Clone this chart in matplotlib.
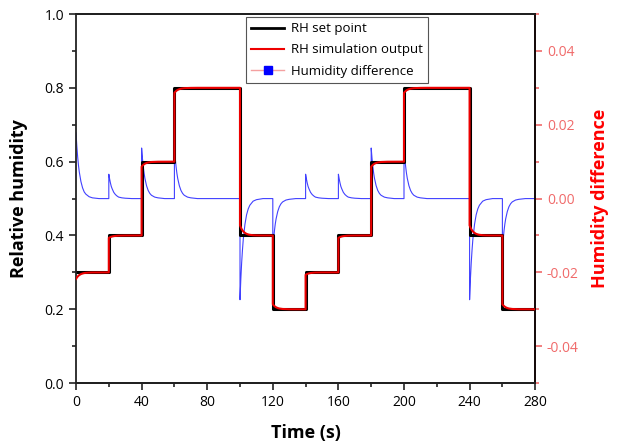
import matplotlib
matplotlib.use("Agg")
import matplotlib.pyplot as plt
from matplotlib.lines import Line2D
from matplotlib.ticker import MultipleLocator
import numpy as np

plt.rcParams["font.family"] = ["Open Sans", "DejaVu Sans"]

# set point steps: time (s) where each level starts, and the RH level
step_time = [0, 20, 40, 60, 100, 120, 140, 160, 180, 200, 240, 260]
rh_setpoint = [0.3, 0.4, 0.6, 0.8, 0.4, 0.2, 0.3, 0.4, 0.6, 0.8, 0.4, 0.2]
t_end = 280

# humidity difference (set point - simulated RH),
# sampled at these offsets (s) after each step
decay_offset = [0, 0.5, 1, 1.5, 2, 3, 4, 5, 6, 8, 10, 14]
diff_start = [0.0178, 0.0142, 0.0113, 0.0090, 0.0072, 0.0046, 0.0029, 0.0018, 0.0012, 0.0005, 0.0002, 0.0]
diff_up_01 = [0.0066, 0.0053, 0.0042, 0.0033, 0.0027, 0.0017, 0.0011, 0.0007, 0.0004, 0.0002, 0.0001, 0.0]
diff_up_02 = [0.0137, 0.0109, 0.0087, 0.0069, 0.0055, 0.0035, 0.0022, 0.0014, 0.0009, 0.0004, 0.0002, 0.0]
diff_down_02 = [-0.0137, -0.0109, -0.0087, -0.0069, -0.0055, -0.0035, -0.0022, -0.0014, -0.0009, -0.0004, -0.0002, 0.0]
diff_down_04 = [-0.0274, -0.0218, -0.0174, -0.0139, -0.0110, -0.0070, -0.0044, -0.0028, -0.0018, -0.0007, -0.0003, 0.0]
diff_after_step = [diff_start, diff_up_01, diff_up_02, diff_up_02, diff_down_04, diff_down_02,
                   diff_up_01, diff_up_01, diff_up_02, diff_up_02, diff_down_04, diff_down_02]

# assemble the time series
t, sp, diff = [], [], []
for i, t0 in enumerate(step_time):
    if i > 0:
        t.append(t0)
        sp.append(rh_setpoint[i - 1])
        diff.append(0.0)
    for dt, d in zip(decay_offset, diff_after_step[i]):
        t.append(t0 + dt)
        sp.append(rh_setpoint[i])
        diff.append(d)
t.append(t_end)
sp.append(rh_setpoint[-1])
diff.append(0.0)
t = np.array(t)
diff = np.array(diff)
rh_output = np.array(sp) - diff

fig = plt.figure(figsize=(6.18, 4.45), dpi=100)
ax = fig.add_axes([0.123, 0.139, 0.743, 0.8295])
ax2 = ax.twinx()

red_axis = "#f06a6a"

ax.step(step_time + [t_end], rh_setpoint + [rh_setpoint[-1]], where="post",
        color="black", lw=2.2, zorder=2)
ax.plot(t, rh_output, color="#ee0000", lw=1.5, zorder=3)
ax2.plot(t, diff, color="#2020ff", lw=0.8, alpha=0.85)

# keep the RH lines above the difference curve
ax.set_zorder(ax2.get_zorder() + 1)
ax.patch.set_visible(False)

ax.set_xlim(0, 280)
ax.set_ylim(0, 1.0)
ax2.set_ylim(-0.05, 0.05)
ax.xaxis.set_major_locator(MultipleLocator(40))
ax.xaxis.set_minor_locator(MultipleLocator(20))
ax.yaxis.set_major_locator(MultipleLocator(0.2))
ax.yaxis.set_minor_locator(MultipleLocator(0.1))
ax2.yaxis.set_minor_locator(MultipleLocator(0.01))
ax2.set_yticks([-0.04, -0.02, 0.0, 0.02, 0.04])
ax2.set_yticklabels(["-0.04", "-0.02", "0.00", "0.02", "0.04"])

for a in (ax, ax2):
    for s in a.spines.values():
        s.set_linewidth(1.3)
ax.spines["left"].set_color("#222222")
ax.spines["bottom"].set_color("#222222")
ax.spines["top"].set_color("#222222")
ax2.spines["right"].set_color(red_axis)
ax2.spines["left"].set_visible(False)

ax.tick_params(axis="both", which="major", direction="out", length=5, width=1.2,
               labelsize=10, color="#222222")
ax.tick_params(axis="both", which="minor", direction="out", length=3, width=1.2,
               color="#222222")
ax.tick_params(axis="x", top=False)
ax2.tick_params(axis="y", which="major", direction="out", length=5, width=1.2,
                labelsize=10, color=red_axis, labelcolor=red_axis)
ax2.tick_params(axis="y", which="minor", direction="out", length=3, width=1.2,
                color=red_axis)

ax.set_xlabel("Time (s)", fontsize=13, fontweight="bold", labelpad=10)
ax.set_ylabel("Relative humidity", fontsize=13, fontweight="bold", labelpad=12)
ax2.set_ylabel("Humidity difference", fontsize=13, fontweight="bold",
               color="#ff0000", labelpad=9)

handles = [
    Line2D([], [], color="black", lw=2),
    Line2D([], [], color="#ee0000", lw=1.5),
    Line2D([], [], color="#f4a0a0", lw=1, marker="s", markersize=6,
           markerfacecolor="#0000ff", markeredgecolor="#0000ff"),
]
leg = ax.legend(handles, ["RH set point", "RH simulation output", "Humidity difference"],
                loc="upper right", bbox_to_anchor=(0.767, 0.992), borderaxespad=0,
                fontsize=9.5, fancybox=False, edgecolor="#555555", framealpha=1,
                handlelength=2.5, handletextpad=0.5, labelspacing=0.62, borderpad=0.4)
leg.get_frame().set_linewidth(0.8)

fig.savefig("out.png", dpi=100)
